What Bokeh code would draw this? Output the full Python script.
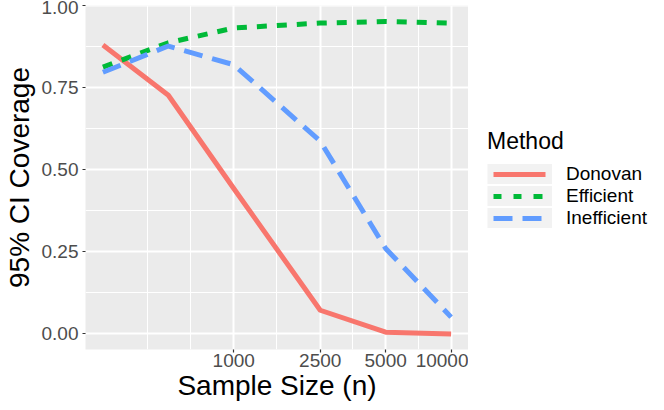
import math
from bokeh.plotting import figure
from bokeh.layouts import row
from bokeh.models import (Range1d, FixedTicker, NumeralTickFormatter, Legend,
                          LegendItem, ColumnDataSource)
from bokeh.embed import file_html
from bokeh.resources import INLINE

# ---- data ----
sample_size = [250, 500, 1000, 2500, 5000, 10000]
donovan = [0.880, 0.727, 0.443, 0.072, 0.005, 0.000]
efficient = [0.813, 0.887, 0.932, 0.947, 0.952, 0.947]
inefficient = [0.797, 0.877, 0.820, 0.587, 0.260, 0.051]
methods = ["Donovan", "Efficient", "Inefficient"]
colors = ["#F8766D", "#00BA38", "#619CFF"]
dashes = ["solid", "10 10", "19 10"]
# same dash styles, shifted to start inside the legend key box
legend_dashes = ["0 6 52 100", "0 6 8 12 8 12 9 100", "0 6 19 10 19 100"]

x_breaks = [1000, 2500, 5000, 10000]
x_labels = ["1000", "2500", "5000", "10000"]
x_minor_breaks = [400, 632, 1581, 3536, 7071]
y_breaks = [0.0, 0.25, 0.5, 0.75, 1.0]
y_minor_breaks = [0.125, 0.375, 0.625, 0.875]

FONT = "Liberation Sans"

H = 408
MAIN_W, LEG_W = 468, 192
LEFT, TOP, BOTTOM = 81, 5, 59

# ggplot-like 5% expansion
lo, hi = math.log10(min(sample_size)), math.log10(max(sample_size))
dx = (hi - lo) * 0.05
ymax = max(max(donovan), max(efficient), max(inefficient))
dy = ymax * 0.05

p = figure(width=MAIN_W, height=H,
           x_axis_type="log",
           x_range=Range1d(10 ** (lo - dx), 10 ** (hi + dx)),
           y_range=Range1d(-dy, 1.0005),
           output_backend="svg", toolbar_location=None,
           min_border_left=LEFT, min_border_top=TOP,
           min_border_bottom=BOTTOM, min_border_right=0,
           background_fill_color="#EBEBEB", border_fill_color="white",
           outline_line_color=None)

src = ColumnDataSource(dict(n=sample_size, Donovan=donovan,
                            Efficient=efficient, Inefficient=inefficient))
for m, c, d in zip(methods, colors, dashes):
    p.line("n", m, source=src, line_color=c, line_width=5,
           line_dash=d, line_join="round", line_cap="butt")

# axes
xt = FixedTicker(ticks=x_breaks, minor_ticks=x_minor_breaks)
yt = FixedTicker(ticks=y_breaks, minor_ticks=y_minor_breaks)
p.xaxis.ticker = xt
p.yaxis.ticker = yt
p.xaxis.major_label_overrides = {b: l for b, l in zip(x_breaks, x_labels)}
p.yaxis.formatter = NumeralTickFormatter(format="0.00")

for ax in (p.xaxis[0], p.yaxis[0]):
    ax.axis_line_color = None
    ax.major_tick_line_color = "#333333"
    ax.major_tick_line_width = 1.2
    ax.major_tick_in = 0
    ax.major_tick_out = 3
    ax.minor_tick_in = 0
    ax.minor_tick_out = 0
    ax.major_label_text_font = FONT
    ax.major_label_text_font_size = "19px"
    ax.major_label_text_color = "#4D4D4D"
    ax.axis_label_text_font = FONT
    ax.axis_label_text_font_style = "normal"
    ax.axis_label_text_color = "black"

p.xaxis.axis_label = "Sample Size (n)"
p.xaxis.axis_label_text_font_size = "28px"
p.xaxis.major_label_standoff = 1
p.xaxis.axis_label_standoff = 0
p.yaxis.axis_label = "95% CI Coverage"
p.yaxis.axis_label_text_font_size = "28px"
p.yaxis.major_label_standoff = 4
p.yaxis.axis_label_standoff = 4

# grids
p.xgrid.ticker = xt
p.ygrid.ticker = yt
for g in (p.xgrid[0], p.ygrid[0]):
    g.grid_line_color = "white"
    g.grid_line_width = 2
    g.minor_grid_line_color = "white"
    g.minor_grid_line_width = 1

# ---- legend panel (separate figure to the right) ----
lf = figure(width=LEG_W, height=H, x_range=Range1d(0, 1), y_range=Range1d(0, 1),
            x_axis_type=None, y_axis_type=None,
            output_backend="svg", toolbar_location=None, min_border=0,
            background_fill_color="white", border_fill_color="white",
            outline_line_color=None)

key_src = ColumnDataSource(dict(x=[float("nan")], y=[float("nan")]))
items = []
for m, c, ld in zip(methods, colors, legend_dashes):
    bg = lf.line("x", "y", source=key_src, line_color="#F2F2F2",
                 line_width=24, line_cap="butt")
    key = lf.line("x", "y", source=key_src, line_color=c, line_width=5,
                  line_dash=ld, line_cap="butt")
    items.append(LegendItem(label=m, renderers=[bg, key]))

legend = Legend(items=items, title="Method", location=(19, 120),
                orientation="vertical")
legend.title_text_font = FONT
legend.title_text_font_size = "23px"
legend.title_text_font_style = "normal"
legend.title_text_color = "black"
legend.title_standoff = 8
legend.label_text_font = FONT
legend.label_text_font_size = "19px"
legend.label_text_color = "black"
legend.glyph_width = 65
legend.glyph_height = 20
legend.label_height = 20
legend.spacing = 0
legend.label_standoff = 14
legend.padding = 0
legend.margin = 0
legend.border_line_color = None
legend.background_fill_alpha = 0
lf.add_layout(legend)

layout = row(p, lf)
open("out.html", "w").write(file_html(layout, INLINE))
